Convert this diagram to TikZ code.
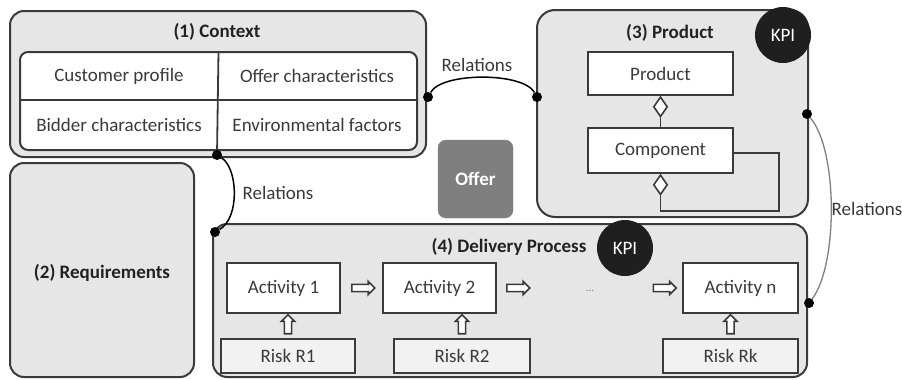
\documentclass[tikz,border=0pt]{standalone}
\usepackage{fontspec}
\setmainfont{Carlito}
\usetikzlibrary{shapes.geometric,shapes.arrows,calc}
\definecolor{boxfill}{HTML}{E7E6E6}
\definecolor{riskfill}{HTML}{F2F2F2}
\definecolor{linec}{HTML}{3A3A3A}
\definecolor{textc}{HTML}{3A3A3A}
\definecolor{titlec}{HTML}{222222}
\definecolor{offerfill}{HTML}{7F7F7F}
\begin{document}
\begin{tikzpicture}[x=1pt,y=-1pt,
  font=\fontsize{19}{22}\selectfont,
  outer/.style={draw=linec, line width=2pt, fill=boxfill, rounded corners=14pt, inner sep=0},
  plainbox/.style={draw=linec, line width=2pt, fill=white, inner sep=0, text=textc},
  riskbox/.style={plainbox, fill=riskfill},
  dot/.style={circle, fill=black, inner sep=0, minimum size=10pt},
  lbl/.style={text=textc, inner sep=0},
  ttl/.style={font=\fontsize{19}{22}\selectfont\bfseries, text=titlec, inner sep=0},
  kpi/.style={circle, fill=black!88, text=white, minimum size=56pt, inner sep=0},
  diam/.style={diamond, draw=linec, fill=white, line width=1.6pt, minimum width=14pt, minimum height=20pt, inner sep=0},
  blk/.style={single arrow, draw=linec, fill=white, line width=1.6pt, inner sep=2.8pt, minimum height=23pt, single arrow head extend=3pt, single arrow tip angle=90},
  rel/.style={draw=black, line width=1.5pt},
  conn/.style={draw=linec, line width=1.8pt}
]
\useasboundingbox (0,0) rectangle (902,380);

% (1) Context
\node[outer, minimum width=416pt, minimum height=146pt] (ctx) at (218,84) {};
\node[ttl] (ctxt) at (217,32) {(1) Context};
\node[plainbox, rounded corners=8pt, minimum width=397pt, minimum height=98pt] (tbl) at (218.5,101) {};
\draw[conn] (tbl.west |- 0,100) coordinate (th1) -- (tbl.east |- 0,100) coordinate (th2);
\node[lbl] (cp) at (119,76) {Customer profile};
\node[lbl] (oc) at (317,76) {Offer characteristics};
\node[lbl] (bc) at (119,125) {Bidder characteristics};
\node[lbl] (ef) at (317,125) {Environmental factors};

% (2) Requirements
\node[outer, minimum width=184pt, minimum height=214pt] (req) at (102,270) {};
\node[ttl] (reqt) at (102,273) {(2) Requirements};

% (3) Product
\node[outer, rounded corners=18pt, minimum width=271pt, minimum height=207pt] (prod) at (672.5,113.5) {};
\node[ttl] (prodt) at (670,33) {(3) Product};
\node[kpi] (kpi1) at (783,35) {KPI};
\node[plainbox, minimum width=145pt, minimum height=43pt] (pr) at (660.5,73.5) {Product};
\node[plainbox, minimum width=145pt, minimum height=45pt] (comp) at (660.5,150.5) {Component};
\node[diam, anchor=north] (dm1) at (pr.south) {};
\draw[conn] (dm1.south) -- (comp.north);
\node[diam, anchor=north] (dm2) at (comp.south) {};
\draw[conn] (dm2.south) -- ++(0,15) -| ($(comp.east)+(45,2.5)$) -- ($(comp.east)+(0,2.5)$);

% Offer
\node[draw=offerfill, fill=offerfill, rounded corners=8pt, minimum width=75pt, minimum height=78pt, text=white, font=\fontsize{19}{22}\selectfont\bfseries] (offer) at (475.5,179) {Offer};

% (4) Delivery Process
\node[outer, minimum width=594pt, minimum height=153pt] (del) at (510,300.5) {};
\node[ttl] (delt) at (509,247) {(4) Delivery Process};
\node[kpi] (kpi2) at (625,248) {KPI};
\node[plainbox, minimum width=113pt, minimum height=50pt] (a1) at (283.5,288) {Activity 1};
\node[plainbox, minimum width=113pt, minimum height=50pt] (a2) at (439.5,288) {Activity 2};
\node[plainbox, minimum width=115pt, minimum height=50pt] (an) at (740.5,288) {Activity n};
\node[riskbox, minimum width=134pt, minimum height=34pt] (r1) at (288,356) {Risk R1};
\node[riskbox, minimum width=136pt, minimum height=34pt] (r2) at (462,356) {Risk R2};
\node[riskbox, minimum width=135pt, minimum height=34pt] (rk) at (730.5,356) {Risk Rk};
\node[text=gray, font=\fontsize{11}{12}\selectfont] (dots) at (590,291) {...};

\node[blk] (ar1) at ($(a1.east)!0.5!(a2.west)$) {};
\node[blk] (ar2) at (516.5,288) {};
\node[blk] (ar3) at (663,288) {};
\node[blk, shape border rotate=90, minimum height=19pt] (ur1) at ($(r1.north)!0.5!(r1.north |- a1.south)$) {};
\node[blk, shape border rotate=90, minimum height=19pt] (ur2) at ($(r2.north)!0.5!(r2.north |- a2.south)$) {};
\node[blk, shape border rotate=90, minimum height=19pt] (urk) at ($(rk.north)!0.5!(rk.north |- an.south)$) {};

% Relations
\draw[conn] (tbl.north) -- (217,155);
\node[dot] (c1) at (428,97) {};
\node[dot] (c2) at (537,97) {};
\draw[rel] (c1) .. controls (442,72) and (523,72) .. (c2);
\node[lbl] (rl1) at (477,65) {Relations};

\node[dot] (d1) at (217,155) {};
\node[dot] (d2) at (215,232) {};
\draw[rel] (d1) .. controls (238,168) and (240,218) .. (d2);
\node[lbl] (rl2) at (278,193) {Relations};

\node[dot] (e1) at (807,114) {};
\node[dot] (e2) at (809,303) {};
\draw[draw=gray, line width=1.3pt] (e1) .. controls (838,150) and (838,265) .. (e2);
\node[lbl] (rl3) at (867,209) {Relations};
\end{tikzpicture}
\end{document}
